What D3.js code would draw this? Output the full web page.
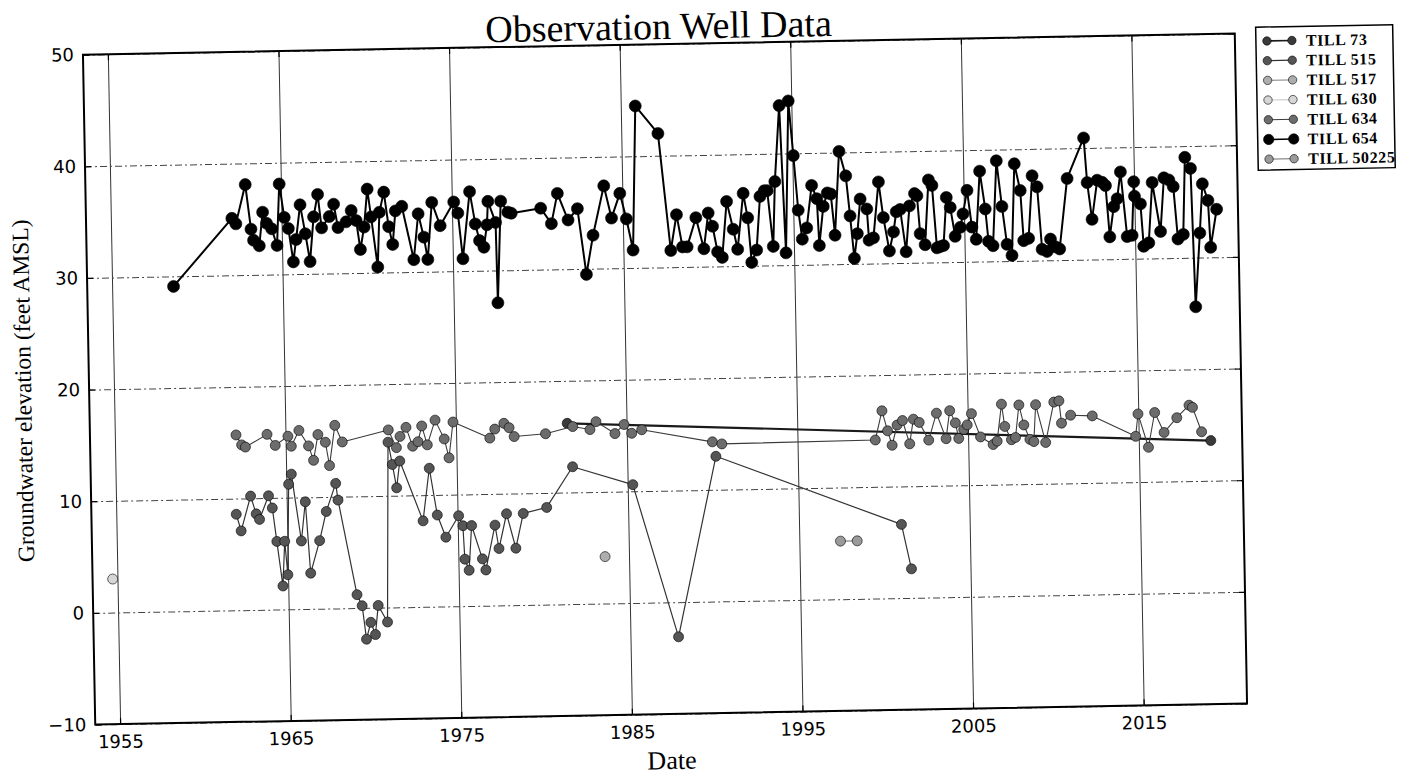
<!DOCTYPE html>
<html>
<head>
<meta charset="utf-8">
<style>
body { margin: 0; background: #ffffff; }
</style>
</head>
<body>
<script src="https://cdn.jsdelivr.net/npm/d3@7"></script>
<script>
// each well: [decimal year, groundwater elevation (feet AMSL)]
var till73 = [[1981.52, 16.2], [2019.22, 13.6]];

var till515 = [[1962.03, 8.6], [1962.30, 7.1], [1962.89, 10.2], [1963.20, 8.6], [1963.39, 8.1], [1963.94, 10.2],
  [1964.15, 9.1], [1964.38, 6.1], [1964.69, 2.1], [1964.84, 6.1], [1964.99, 3.1], [1965.13, 11.2], [1965.30, 12.1],
  [1965.82, 6.1], [1966.09, 9.6], [1966.33, 3.2], [1966.89, 6.1], [1967.31, 8.7], [1967.89, 11.2], [1968.01, 9.7],
  [1969.02, 1.2], [1969.31, 0.2], [1969.53, -2.8], [1969.80, -1.3], [1970.06, -2.4], [1970.25, 0.2], [1970.78, -1.3],
  [1971.00, 14.8], [1971.23, 12.8], [1971.46, 10.7], [1971.67, 13.1], [1972.97, 7.7], [1973.39, 12.4], [1973.81, 8.2],
  [1974.29, 6.2], [1975.06, 8.1], [1975.30, 7.2], [1975.38, 4.2], [1975.62, 3.2], [1975.81, 7.2], [1976.41, 4.2],
  [1976.60, 3.2], [1977.18, 7.2], [1977.39, 5.1], [1977.87, 8.2], [1978.38, 5.1], [1978.85, 8.2], [1980.23, 8.7],
  [1981.79, 12.3], [1985.30, 10.6], [1987.82, -3.1], [1990.20, 13.0], [2001.00, 6.6], [2001.54, 2.6]];

var till517 = [[1983.60, 4.2]];

var till630 = [[1954.72, 3.0]];

var till634 = [[1962.10, 15.7], [1962.42, 14.8], [1962.64, 14.6], [1963.92, 15.7], [1964.39, 14.7], [1965.14, 15.5],
  [1965.33, 14.6], [1965.79, 16.0], [1966.34, 14.6], [1966.62, 13.3], [1966.90, 15.6], [1967.33, 14.9], [1967.55, 12.8],
  [1967.90, 16.4], [1968.32, 14.9], [1971.03, 15.9], [1971.49, 14.3], [1971.71, 15.3], [1972.07, 16.1], [1972.44, 14.4],
  [1972.76, 14.8], [1972.99, 16.2], [1973.30, 14.5], [1973.78, 16.7], [1974.30, 15.0], [1974.56, 13.3], [1974.83, 16.5],
  [1976.97, 15.0], [1977.27, 15.8], [1977.81, 16.3], [1978.11, 15.9], [1978.40, 15.1], [1980.24, 15.3], [1981.84, 15.9],
  [1982.85, 15.6], [1983.21, 16.3], [1984.31, 15.2], [1984.85, 16.0], [1985.29, 15.2], [1985.88, 15.5], [1990.01, 14.3],
  [1990.56, 14.1], [1999.56, 14.2], [1999.98, 16.8], [2000.29, 15.0], [2000.54, 13.7], [2000.85, 15.5], [2001.17, 15.9],
  [2001.57, 13.8], [2001.81, 16.0], [2002.15, 15.7], [2002.69, 14.1], [2003.17, 16.5], [2003.71, 14.2], [2003.95, 16.7],
  [2004.27, 15.6], [2004.45, 14.2], [2004.75, 15.0], [2004.96, 15.4], [2005.22, 16.4], [2005.73, 14.3], [2006.46, 13.6],
  [2006.70, 13.9], [2006.99, 17.2], [2007.16, 15.2], [2007.54, 14.0], [2007.78, 14.2], [2008.01, 17.1], [2008.28, 15.3],
  [2008.62, 14.0], [2008.85, 13.8], [2008.99, 17.1], [2009.54, 13.7], [2010.06, 17.3], [2010.36, 17.4], [2010.49, 15.4],
  [2011.03, 16.1], [2012.30, 16.0], [2014.82, 14.1], [2014.98, 16.1], [2015.56, 13.1], [2015.96, 16.2], [2016.49, 14.4],
  [2017.25, 15.7], [2017.98, 16.8], [2018.18, 16.6], [2018.69, 14.4]];

var till654 = [[1958.60, 29.1], [1962.09, 35.1], [1962.32, 34.6], [1962.91, 38.1], [1963.20, 34.1], [1963.34, 33.1],
  [1963.67, 32.6], [1963.90, 35.6], [1964.12, 34.6], [1964.41, 34.1], [1964.71, 32.6], [1964.90, 38.1], [1965.16, 35.1],
  [1965.39, 34.1], [1965.65, 31.1], [1965.83, 33.1], [1966.10, 36.2], [1966.38, 33.6], [1966.63, 31.1], [1966.88, 35.1],
  [1967.14, 37.1], [1967.34, 34.1], [1967.80, 35.1], [1968.07, 36.2], [1968.30, 34.1], [1968.78, 34.6], [1969.09, 35.6],
  [1969.37, 34.7], [1969.59, 32.1], [1969.83, 34.1], [1970.05, 37.5], [1970.25, 35.0], [1970.59, 30.5], [1970.74, 35.4],
  [1971.02, 37.2], [1971.27, 34.1], [1971.49, 32.5], [1971.68, 35.5], [1972.06, 35.9], [1972.71, 31.1], [1973.01, 35.2],
  [1973.32, 33.1], [1973.53, 31.1], [1973.82, 36.2], [1974.29, 34.1], [1975.11, 36.2], [1975.34, 35.2], [1975.59, 31.1],
  [1976.05, 37.1], [1976.35, 34.2], [1976.58, 32.7], [1976.83, 32.1], [1977.03, 34.1], [1977.11, 36.2], [1977.54, 34.3],
  [1977.59, 27.1], [1977.86, 36.2], [1978.27, 35.2], [1978.47, 35.1], [1980.20, 35.5], [1980.81, 34.1], [1981.19, 36.8],
  [1981.79, 34.4], [1982.35, 35.4], [1982.81, 29.5], [1983.24, 33.0], [1983.92, 37.4], [1984.34, 34.5], [1984.85, 36.7],
  [1985.21, 34.4], [1985.57, 31.6], [1985.85, 44.5], [1987.15, 42.0], [1987.78, 31.5], [1988.15, 34.7], [1988.47, 31.8],
  [1988.74, 31.8], [1989.28, 34.4], [1989.72, 31.6], [1990.01, 34.8], [1990.25, 33.6], [1990.52, 31.3], [1990.79, 30.8],
  [1991.10, 35.8], [1991.46, 33.3], [1991.70, 31.5], [1992.08, 36.5], [1992.32, 34.3], [1992.51, 30.3], [1992.81, 31.4],
  [1993.06, 36.2], [1993.32, 36.7], [1993.49, 36.7], [1993.79, 31.7], [1993.95, 37.5], [1994.28, 44.3], [1994.53, 31.1],
  [1994.82, 44.7], [1995.06, 39.8], [1995.29, 34.9], [1995.50, 32.3], [1995.77, 33.3], [1996.10, 37.1], [1996.39, 35.9],
  [1996.49, 31.7], [1996.76, 35.2], [1997.01, 36.4], [1997.21, 36.3], [1997.42, 32.6], [1997.74, 40.1], [1998.11, 37.9],
  [1998.32, 34.3], [1998.53, 30.5], [1998.73, 32.7], [1998.93, 35.8], [1999.31, 34.9], [1999.41, 32.1], [1999.67, 32.3],
  [2000.02, 37.3], [2000.27, 34.1], [2000.59, 31.1], [2000.85, 32.8], [2001.03, 34.6], [2001.26, 34.8], [2001.57, 31.0],
  [2001.81, 35.1], [2002.12, 36.2], [2002.26, 36.0], [2002.41, 32.6], [2002.69, 31.6], [2002.95, 37.4], [2003.15, 36.9],
  [2003.38, 31.3], [2003.57, 31.4], [2003.77, 31.5], [2003.98, 35.8], [2004.20, 34.9], [2004.46, 32.3], [2004.77, 33.1],
  [2004.94, 34.3], [2005.20, 36.4], [2005.45, 33.1], [2005.69, 32.0], [2005.96, 38.1], [2006.25, 34.7], [2006.41, 31.8],
  [2006.67, 31.4], [2006.95, 39.0], [2007.23, 34.9], [2007.49, 31.5], [2007.77, 30.5], [2008.00, 38.7], [2008.32, 36.3],
  [2008.47, 31.8], [2008.76, 32.0], [2009.03, 37.6], [2009.31, 36.6], [2009.54, 31.0], [2009.83, 30.8], [2010.04, 31.9],
  [2010.32, 31.2], [2010.57, 31.0], [2011.08, 37.3], [2012.09, 40.9], [2012.25, 36.9], [2012.50, 33.6], [2012.84, 37.1],
  [2013.13, 36.9], [2013.32, 36.6], [2013.52, 32.0], [2013.78, 34.7], [2013.99, 35.4], [2014.21, 37.8], [2014.54, 32.0],
  [2014.83, 32.1], [2014.98, 36.9], [2015.01, 35.6], [2015.35, 34.9], [2015.50, 31.1], [2015.80, 31.4], [2016.06, 36.8],
  [2016.50, 32.4], [2016.75, 37.2], [2017.04, 37.0], [2017.29, 36.4], [2017.51, 31.7], [2017.83, 32.1], [2018.00, 39.0],
  [2018.32, 38.0], [2018.48, 25.6], [2018.80, 32.2], [2019.00, 36.6], [2019.31, 35.1], [2019.42, 30.9], [2019.81, 34.3]];

var till50225 = [[1997.41, 5.2], [1998.39, 5.2]];

var yearTicks = [1955, 1965, 1975, 1985, 1995, 2005, 2015];
var levelTicks = [-10, 0, 10, 20, 30, 40, 50];
var xLimits = [1953.54, 2021.06];
var yLimits = [-10, 50];

// the scanned page sits slightly tilted, so the whole drawing is turned a little
var series = [
  { name: "TILL 73", data: till73, fill: "#3a3a3a", line: "#1a1a1a", lw: 2.2, r: 5 },
  { name: "TILL 515", data: till515, fill: "#555555", line: "#333333", lw: 1.2, r: 5 },
  { name: "TILL 517", data: till517, fill: "#adadad", line: "#999999", lw: 1.2, r: 5 },
  { name: "TILL 630", data: till630, fill: "#d6d6d6", line: "#cccccc", lw: 1.2, r: 5 },
  { name: "TILL 634", data: till634, fill: "#6c6c6c", line: "#3c3c3c", lw: 1.1, r: 5 },
  { name: "TILL 654", data: till654, fill: "#000000", line: "#000000", lw: 2, r: 6 },
  { name: "TILL 50225", data: till50225, fill: "#9a9a9a", line: "#8a8a8a", lw: 1.2, r: 5 }
];

var width = 1409, height = 778;
var x0 = 89, x1 = 1241, y0 = 44, y1 = 714;

function toDate(v) {
  var yr = Math.floor(v);
  var a = new Date(yr, 0, 1), b = new Date(yr + 1, 0, 1);
  return new Date(+a + (v - yr) * (b - a));
}

var x = d3.scaleTime().domain(xLimits.map(toDate)).range([x0, x1]);
var y = d3.scaleLinear().domain(yLimits).range([y1, y0]);
var yearDates = yearTicks.map(function (t) { return new Date(t, 0, 1); });

var svg = d3.select("body").append("svg")
  .attr("width", width)
  .attr("height", height)
  .style("background", "#fff");

var g = svg.append("g").attr("transform", "rotate(-1.05,668,379)");

// grid
g.append("g")
  .attr("transform", "translate(0," + y1 + ")")
  .call(d3.axisBottom(x).tickValues(yearDates).tickSize(-(y1 - y0)).tickFormat(""))
  .call(function (a) {
    a.select(".domain").remove();
    a.selectAll("line").attr("stroke", "#333").attr("stroke-width", 1);
  });

g.append("g")
  .attr("transform", "translate(" + x0 + ",0)")
  .call(d3.axisLeft(y).tickValues(levelTicks).tickSize(-(x1 - x0)).tickFormat(""))
  .call(function (a) {
    a.select(".domain").remove();
    a.selectAll("line").attr("stroke", "#444").attr("stroke-width", 1).attr("stroke-dasharray", "7,3,2,3");
  });

// series
var line = d3.line()
  .x(function (d) { return x(toDate(d[0])); })
  .y(function (d) { return y(d[1]); });

series.forEach(function (s) {
  g.append("path")
    .datum(s.data)
    .attr("fill", "none")
    .attr("stroke", s.line)
    .attr("stroke-width", s.lw)
    .attr("stroke-linejoin", "round")
    .attr("d", line);

  g.append("g").selectAll("circle")
    .data(s.data)
    .enter()
    .append("circle")
    .attr("cx", function (d) { return x(toDate(d[0])); })
    .attr("cy", function (d) { return y(d[1]); })
    .attr("r", s.r)
    .attr("fill", s.fill)
    .attr("stroke", "#000")
    .attr("stroke-width", 0.6);
});

// frame and ticks
g.append("rect")
  .attr("x", x0).attr("y", y0)
  .attr("width", x1 - x0).attr("height", y1 - y0)
  .attr("fill", "none").attr("stroke", "#000").attr("stroke-width", 2);

var tickFont = "'DejaVu Sans', sans-serif";

var bottomAxis = g.append("g")
  .attr("transform", "translate(0," + y1 + ")")
  .call(d3.axisBottom(x).tickValues(yearDates).tickSize(-6).tickPadding(11).tickFormat(d3.timeFormat("%Y")));
var leftAxis = g.append("g")
  .attr("transform", "translate(" + x0 + ",0)")
  .call(d3.axisLeft(y).tickValues(levelTicks).tickSize(-6).tickPadding(9));
var topAxis = g.append("g")
  .attr("transform", "translate(0," + y0 + ")")
  .call(d3.axisTop(x).tickValues(yearDates).tickSize(-6).tickFormat(""));
var rightAxis = g.append("g")
  .attr("transform", "translate(" + x1 + ",0)")
  .call(d3.axisRight(y).tickValues(levelTicks).tickSize(-6).tickFormat(""));

[bottomAxis, leftAxis, topAxis, rightAxis].forEach(function (a) {
  a.select(".domain").remove();
  a.selectAll("line").attr("stroke", "#000").attr("stroke-width", 1.2);
  a.selectAll("text").attr("fill", "#000").style("font-family", tickFont).style("font-size", "18px");
});

// titles
g.append("text")
  .attr("x", (x0 + x1) / 2).attr("y", 39)
  .attr("text-anchor", "middle")
  .style("font-family", "'Liberation Serif', serif")
  .style("font-size", "38px")
  .text("Observation Well Data");

g.append("text")
  .attr("x", (x0 + x1) / 2).attr("y", 769)
  .attr("text-anchor", "middle")
  .style("font-family", "'Liberation Serif', serif")
  .style("font-size", "26px")
  .text("Date");

g.append("text")
  .attr("transform", "translate(31," + ((y0 + y1) / 2) + ") rotate(-90)")
  .attr("text-anchor", "middle")
  .style("font-family", "'Liberation Serif', serif")
  .style("font-size", "23.5px")
  .text("Groundwater elevation (feet AMSL)");

// legend
var legend = g.append("g").attr("transform", "translate(1262,38)");
legend.append("rect")
  .attr("width", 137).attr("height", 143)
  .attr("fill", "#fff").attr("stroke", "#000").attr("stroke-width", 1.5);

var rows = legend.selectAll("g.row")
  .data(series)
  .enter()
  .append("g")
  .attr("class", "row")
  .attr("transform", function (d, i) { return "translate(0," + (14 + i * 19.7) + ")"; });

rows.append("line")
  .attr("x1", 11).attr("x2", 36)
  .attr("stroke", function (d) { return d.line; })
  .attr("stroke-width", function (d) { return Math.min(d.lw, 1.6); });

rows.selectAll("circle")
  .data(function (d) { return [[11, d], [36, d]]; })
  .enter()
  .append("circle")
  .attr("cx", function (p) { return p[0]; })
  .attr("r", function (p) { return p[1].r - 0.8; })
  .attr("fill", function (p) { return p[1].fill; })
  .attr("stroke", "#000")
  .attr("stroke-width", 0.6);

rows.append("text")
  .attr("x", 50).attr("dy", "0.35em")
  .style("font-family", "'Liberation Serif', serif")
  .style("font-size", "16px")
  .style("font-weight", "bold")
  .style("letter-spacing", "0.6px")
  .text(function (d) { return d.name; });
</script>
</body>
</html>
